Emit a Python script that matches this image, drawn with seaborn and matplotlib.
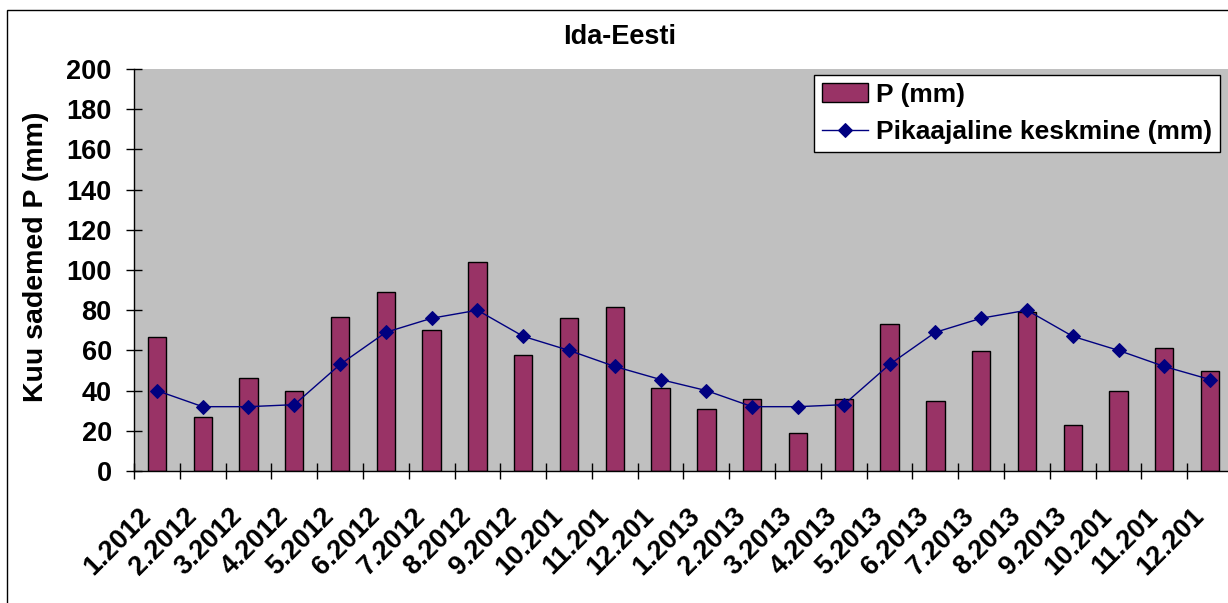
import numpy as np
import pandas as pd
import seaborn as sns
import matplotlib.pyplot as plt
from matplotlib import ticker
from matplotlib.patches import Rectangle

# monthly labels as shown on the chart (long ones cut off)
labels = ['1.2012', '2.2012', '3.2012', '4.2012', '5.2012', '6.2012',
          '7.2012', '8.2012', '9.2012', '10.201', '11.201', '12.201',
          '1.2013', '2.2013', '3.2013', '4.2013', '5.2013', '6.2013',
          '7.2013', '8.2013', '9.2013', '10.201', '11.201', '12.201']
precip = [66.5, 27, 46.5, 40, 76.5, 89, 70, 104, 57.5, 76, 81.5, 41.5,
          31, 36, 19, 36, 73, 35, 59.5, 79, 23, 40, 61, 50]
long_avg = [40, 32, 32, 33, 53, 69, 76, 80, 67, 60, 52, 45.5,
            40, 32, 32, 33, 53, 69, 76, 80, 67, 60, 52, 45.5]

df = pd.DataFrame({'kuu': labels, 'P': precip, 'avg': long_avg})
df['pos'] = np.arange(len(df))

plt.rcParams['font.family'] = ['Liberation Sans', 'DejaVu Sans']
plt.rcParams['font.weight'] = 'bold'
fs = 19.5

fig = plt.figure(figsize=(12.28, 6.03), dpi=100)
ax = fig.add_axes([134 / 1228, 1 - 471 / 603, 1099 / 1228, 402 / 603])
ax.set_facecolor('#C0C0C0')

sns.barplot(data=df, x='pos', y='P', ax=ax, color='#993366', width=0.4,
            edgecolor='black', linewidth=1, saturation=1, label='P (mm)',
            native_scale=True)
sns.lineplot(data=df, x='pos', y='avg', ax=ax, color='#000080', linewidth=1,
             marker='D', markersize=7, markeredgecolor='#000080',
             label='Pikaajaline keskmine (mm)')

ax.set_xlim(-0.5, len(df) - 0.5)
ax.set_ylim(0, 200)
ax.yaxis.set_major_locator(ticker.MultipleLocator(20))
# labels sit a bit left of the bar centres, like the original
ax.set_xticks(df['pos'] - 0.42)
ax.set_xticklabels(labels, rotation=45, ha='right', rotation_mode='anchor',
                   fontsize=fs, fontweight='bold')
ax.set_xticks(np.arange(-0.5, len(df), 1), minor=True)
ax.tick_params(axis='x', which='major', length=0, pad=23)
ax.tick_params(axis='x', which='minor', direction='inout', length=12, width=1)
ax.tick_params(axis='y', direction='inout', length=12, width=1, labelsize=fs, pad=10)
for t in ax.get_yticklabels():
    t.set_fontweight('bold')

for side in ['top', 'right']:
    ax.spines[side].set_visible(False)
for side in ['left', 'bottom']:
    ax.spines[side].set_color('black')
    ax.spines[side].set_linewidth(1)

ax.set_xlabel('')
ax.set_ylabel('Kuu sademed P (mm)', fontsize=20.5, fontweight='bold')
ax.yaxis.set_label_coords(-0.077, 0.532)
fig.text(620 / 1228, 1 - 37 / 603, 'Ida-Eesti', ha='center', va='center',
         fontsize=fs, fontweight='bold')

handles, names = ax.get_legend_handles_labels()
order = [names.index('P (mm)'), names.index('Pikaajaline keskmine (mm)')]
leg = ax.legend([handles[i] for i in order], [names[i] for i in order],
                loc='upper right', bbox_to_anchor=(1220 / 1228, 1 - 75 / 603),
                bbox_transform=fig.transFigure, borderaxespad=0,
                fontsize=19, fancybox=False, framealpha=1, edgecolor='black',
                handlelength=1.75, handletextpad=0.3, labelspacing=0.5,
                borderpad=0.3)
leg.get_frame().set_linewidth(1)
for t in leg.get_texts():
    t.set_fontweight('bold')

# outer chart border, cut off at the right and bottom like the original
fig.patches.append(Rectangle((7 / 1228, -0.1), 1.2, 1.1 - 10 / 603,
                             transform=fig.transFigure, fill=False,
                             edgecolor='black', linewidth=1))

fig.savefig('out.png', dpi=100)
